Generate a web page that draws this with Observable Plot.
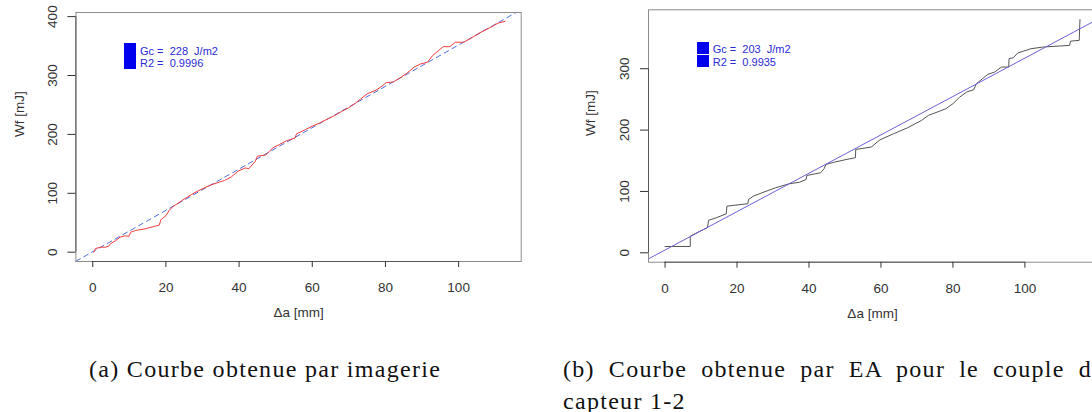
<!DOCTYPE html>
<html><head><meta charset="utf-8">
<script src="https://cdn.jsdelivr.net/npm/d3@7"></script>
<script src="https://cdn.jsdelivr.net/npm/@observablehq/plot@0.6"></script>
<style>
html,body{margin:0;padding:0;background:#fff;}
body{width:1092px;height:412px;overflow:hidden;position:relative;}
.abs{position:absolute;}
.leg{position:absolute;font:11px "Liberation Sans",Arial,sans-serif;color:#2b2bd6;white-space:pre;line-height:13px;}
.sq{position:absolute;background:#0000ee;width:12.4px;height:12.4px;}
.cap{position:absolute;font-family:"Liberation Serif","Times New Roman",serif;font-size:24px;color:#111;letter-spacing:1.3px;line-height:32px;}
</style></head><body>
<div id="a" class="abs" style="left:0;top:0;width:545px;height:330px"></div>
<div id="b" class="abs" style="left:545px;top:0;width:560px;height:330px"></div>

<div class="sq" style="left:124px;top:43.4px"></div>
<div class="sq" style="left:124px;top:56.4px"></div>
<div class="leg" style="left:140px;top:44.5px">Gc =  228  J/m2</div>
<div class="leg" style="left:140px;top:57px">R2 =  0.9996</div>

<div class="sq" style="left:696.7px;top:41.8px"></div>
<div class="sq" style="left:696.7px;top:54.8px"></div>
<div class="leg" style="left:712.7px;top:42.6px">Gc =  203  J/m2</div>
<div class="leg" style="left:712.7px;top:55.6px">R2 =  0.9935</div>

<div class="cap" style="left:89px;top:353px;">(a) Courbe obtenue par imagerie</div>
<div class="cap" style="left:563px;top:353px;width:541px;text-align:justify;text-align-last:left;">(b) Courbe obtenue par EA pour le couple de capteur 1-2</div>

<script>
// ---- data ----
const xTicks = [0, 20, 40, 60, 80, 100];
const yTicksA = [0, 100, 200, 300, 400];
const yTicksB = [0, 100, 200, 300];
const xDomainA = [-4.6, 117.1];
const yDomainA = [-15.8, 407];
const xDomainB = [-4.6, 119.9];
const yDomainB = [-15.3, 396];

// (a) imaging curve
const imgDa = [0.3,0.7,2.1,3.5,4.4,4.8,6.3,7.5,8.7,9.9,10.4,11.7,14.3,16.7,18.2,18.6,20,20.9,21.8,23.3,24.7,27,29.4,32.2,34.6,36,37.9,39.7,41.6,42.7,44.4,45,47.3,49.2,51.1,52.9,55.3,55.7,58.1,60,61.9,63.7,66.1,68,69.9,71.8,73.2,75,77.4,79.3,80.2,82.1,84,85.9,87.8,89.6,91.5,92.9,95.8,97.6,99.1,101.4,103.8,106.1,108.5,110.8,112.7];
const imgWf = [0,6,8.5,8.5,10.5,14,20,25.5,27.7,27,34,36.8,39.6,43.6,46,55,62,71,77,83,89,98,106,114,119,121.7,128,137.5,143,142,154,163,165,177,183,189,194,201,208,214,219,224.7,232,239,245,253,260,269,275,283,288,289,296,304,314,319.7,322.6,334,349,349,356.5,356.5,365,373.5,381,389,392];
const fitADa = [-4.6, 115.7];
const fitAWf = [-15.3, 407];

// (b) acoustic emission curve
const eaDa = [0,7.0,7.0,9.6,11.8,12.1,14.2,17.0,17.2,20,23,23.2,24.6,26.8,30.7,34.5,37.4,39.2,39.4,43.2,44.2,44.7,47.1,50,52.9,53.0,57.3,59.7,63.5,67.4,71.3,73.2,76.1,78,80,81.9,83.8,85.8,86.5,88.2,89.7,91.6,93.5,95.5,95.6,96.8,98,99.7,101.7,105,112.4,112.7,115.1,115.3];
const eaWf = [10.3,10.3,27,35,41,53,57,63.5,76,78,80,87,92.5,97.5,106,112.5,115,119.6,126,130.4,137,144,147.8,151.6,155,168.5,172.3,184,194,203.8,215.8,224,230.4,234.8,243,253.8,262,265.8,275.5,283.7,290.8,294.6,302.7,302.7,316.3,318,325.5,328.8,332.6,335.3,338,345,346.2,380];
const fitBDa = [-4.6, 119.9];
const fitBWf = [-9.8, 379.5];

const zip = (xs, ys) => xs.map((x, i) => ({x, y: ys[i]}));

function panel({xDomain, yDomain, yTicks, width, height, mt, mr, mb, ml, yPad, yTitleDx, marks}) {
  return Plot.plot({
    width, height, marginTop: mt, marginRight: mr, marginBottom: mb, marginLeft: ml,
    x: {domain: xDomain},
    y: {domain: yDomain},
    style: {fontFamily: '"Liberation Sans", Arial, sans-serif', fontSize: "13.5px", color: "#333", background: "transparent", overflow: "visible", maxWidth: "none"},
    marks: [
      ...marks,
      Plot.frame({stroke: "#8c8c8c"}),
      Plot.ruleY([{y: yDomain[0], x1: xTicks[0], x2: xTicks[xTicks.length - 1]}], {y: "y", x1: "x1", x2: "x2", stroke: "#555"}),
      Plot.ruleX([{x: xDomain[0], y1: yTicks[0], y2: yTicks[yTicks.length - 1]}], {x: "x", y1: "y1", y2: "y2", stroke: "#555"}),
      Plot.axisX(xTicks, {tickSize: 6, tickPadding: 15, label: null}),
      Plot.axisY(yTicks, {tickSize: 8, tickPadding: yPad, tickRotate: -90, label: null}),
      Plot.text(["Δa [mm]"], {text: d => d, frameAnchor: "bottom", dy: 55.7, fontSize: 13.5}),
      Plot.text(["Wf [mJ]"], {text: d => d, frameAnchor: "left", dx: yTitleDx, rotate: -90, fontSize: 13.5})
    ]
  });
}

const chartA = panel({
  xDomain: xDomainA, yDomain: yDomainA, yTicks: yTicksA,
  width: 545, height: 330, mt: 12, mr: 24.3, mb: 69, ml: 75.4, yPad: 11, yTitleDx: -56.4,
  marks: [
    Plot.line(zip(fitADa, fitAWf), {x: "x", y: "y", stroke: "#4f6fe0", strokeWidth: 1, strokeDasharray: "5,4"}),
    Plot.line(zip(imgDa, imgWf), {x: "x", y: "y", stroke: "#f03c3c", strokeWidth: 1})
  ]
});
const chartB = panel({
  xDomain: xDomainB, yDomain: yDomainB, yTicks: yTicksB,
  width: 560, height: 330, mt: 9.3, mr: 9, mb: 68.3, ml: 103, yPad: 12, yTitleDx: -57.6,
  marks: [
    Plot.line(zip(eaDa, eaWf), {x: "x", y: "y", stroke: "#555555", strokeWidth: 1}),
    Plot.line(zip(fitBDa, fitBWf), {x: "x", y: "y", stroke: "#6b63d6", strokeWidth: 1})
  ]
});
document.getElementById("a").appendChild(chartA);
document.getElementById("b").appendChild(chartB);
</script>
</body></html>
